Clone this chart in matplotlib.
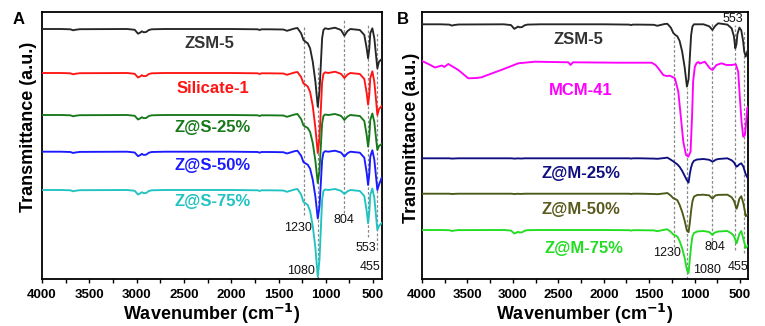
import matplotlib
matplotlib.use("Agg")
import matplotlib.pyplot as plt
import numpy as np

plt.rcParams["font.family"] = ["Liberation Sans", "DejaVu Sans"]

# ---------------- data ----------------
wavenumber = [4000, 3800, 3700, 3670, 3650, 3600, 3100, 3020, 2985, 2960, 2945, 2925, 2900,
              2870, 2840, 2700, 2000, 1720, 1700, 1680, 1600, 1450, 1410, 1390, 1330, 1300,
              1261, 1236, 1215, 1191, 1166, 1138, 1110, 1085, 1067, 1053, 1039, 1025, 1008,
              973, 903, 840, 820, 804, 785, 770, 740, 640, 593, 568, 553, 540, 530, 508,
              487, 466, 455, 438, 409]

# absorption depth below each trace's baseline (a.u.)
zsm5_a = [0, 0, 0.3, 1.3, 0.8, 0.2, 0, 0.8, 4.7, 3.5, 2.3, 3.3, 3.0,
          1.0, 0.3, 0, 0, 0.3, 1.0, 0.3, 0.3, 0.5, 1.8, 1.2, -0.5, -1.0,
          4.3, 11, 12.7, 14.3, 19.3, 32.7, 52.7, 77.7, 62.7, 36, 9.3, 1, -0.7,
          0, -1.3, 1, 4, 6.7, 4, 2, 0, 1, 6, 19.3, 29.3, 19.3, 4.3, -0.7,
          9.3, 29.3, 39.3, 32.7, 30]
silicate1 = [0, 0, 0.3, 1.3, 0.8, 0.2, 0, 0.8, 4.5, 3.3, 2.2, 3.2, 3.0,
             1.0, 0.3, 0, 0, 0.3, 1.0, 0.3, 0.3, 0.5, 1.8, 1.2, -0.5, -1.0,
             4, 10.5, 11.7, 13.5, 19, 33, 55, 80, 65, 37, 9.5, 1, -0.7,
             0, -1.3, 0.8, 3, 5, 3, 1.5, 0, 1, 6, 20, 31.7, 21, 5, -1.7,
             9, 30, 42, 36, 33]
zs25 = [0, 0, 0.3, 1.3, 0.8, 0.2, 0, 0.8, 4.5, 3.3, 2.2, 3.2, 3.0,
        1.0, 0.3, 0, 0, 0.3, 1.0, 0.3, 0.3, 0.5, 1.8, 1.2, -0.5, -1.0,
        4, 10.5, 11.7, 13, 17, 28, 46, 68, 56, 32, 8.5, 1, -0.5,
        0, -1.0, 0.8, 3, 5, 3, 1.5, 0, 1, 6, 20, 31.7, 21, 5, -1.5,
        7, 26, 35, 31, 29]
zs50 = [0, 0, 0.3, 1.3, 0.8, 0.2, 0, 0.8, 4.5, 3.3, 2.2, 3.2, 3.0,
        1.0, 0.3, 0, 0, 0.3, 1.0, 0.3, 0.3, 0.5, 1.8, 1.2, -0.5, -1.0,
        4, 10.5, 11.7, 13, 17, 28, 45, 66.7, 55, 32, 8.5, 1, -0.5,
        0, -1.0, 0.8, 3, 5, 3, 1.5, 0, 1, 6, 21, 33.3, 22, 5, -1.5,
        8, 28, 38.3, 33, 26]
zs75 = [0, 0, 0.3, 1.3, 0.8, 0.2, 0, 0.8, 4.5, 3.3, 2.2, 3.2, 3.0,
        1.0, 0.3, 0, 0, 0.3, 1.0, 0.3, 0.3, 0.5, 1.8, 1.2, -0.5, -1.0,
        4.5, 12, 13.3, 15, 21, 36, 58, 86.7, 70, 40, 10, 1, -0.5,
        0, -1.0, 0.8, 2.5, 4, 2.5, 1.2, 0, 1, 6, 21, 33.3, 22, 5, -1.5,
        8, 29, 40, 36, 33]
zsm5_b = [0, 0, 0.3, 1.3, 0.8, 0.2, 0, 0.8, 4.5, 3.3, 2.3, 3.0, 2.8,
          1.0, 0.3, 0, 0, 0.3, 0.8, 0.3, 0.3, 0.5, 1.5, 1.0, -0.3, -0.5,
          3.5, 8.5, 10.5, 12, 16.5, 27, 43, 62.3, 55, 33, 11, 2.3, 0,
          0, 0, 2, 4, 5.7, 3, 1.3, -1, 0.3, 4, 12, 24, 20, 10, 3.3,
          6, 17.3, 27, 32.3, 24]
zm25 = [0, 0, 0, 0.3, 0.2, 0, 0, 0, 0.3, 0.2, 0, 0.2, 0.2,
        0, 0, 0, 0, 0, 0.3, 0, 0, 0.3, 0.5, 0.3, -0.3, -0.7,
        1.5, 3, 4.5, 6, 8.5, 12.5, 17.5, 22, 24.3, 15.5, 9, 5, 2.5,
        1.2, 0.7, 1.5, 2.5, 3.3, 2.5, 1.5, 0.7, 0, 2, 4, 6.5, 8.3, 8, 6,
        5, 8, 11, 16, 21]
zm50 = [0, 0, 0, 0.3, 0.2, 0, 0, 0, 0.3, 0.2, 0, 0.2, 0.2,
        0, 0, 0, 0, 0, 0.3, 0, 0, 0.3, 0.5, 0.3, -0.3, -0.7,
        2, 4.5, 5.3, 6.5, 11, 18, 27, 37, 38.5, 29, 17, 8, 3,
        1.3, 1, 1.7, 3.5, 5, 3, 1.7, 1.2, 1, 3.5, 7, 11, 15, 13, 5,
        2.5, 9, 14, 22.5, 20]
zm75 = [0, 0, 0.2, 1.0, 0.6, 0.1, 0, 0.6, 3.5, 2.6, 1.8, 2.5, 2.3,
        0.8, 0.2, 0, 0, 0.2, 0.6, 0.2, 0.2, 0.4, 1.2, 0.8, -0.3, -0.7,
        2, 4.5, 5.3, 6.5, 11, 18, 28, 40, 43, 29, 16, 6.7, 3,
        1.5, 1, 2, 3.5, 5, 3, 2.3, 1.5, 1, 3.5, 6, 9.5, 13.3, 11, 4,
        1, 8.3, 12, 18, 15]

# MCM-41 trace (own knots, absolute a.u.)
mcm41_wavenumber = [4000, 3930, 3857, 3800, 3780, 3755, 3711, 3600, 3491, 3400, 3345, 3308,
                    3100, 2940, 2757, 2390, 2365, 2340, 1840, 1473, 1430, 1400, 1345, 1310,
                    1272, 1217, 1180, 1154, 1125, 1095, 1070, 1045, 1028, 1017, 998, 980,
                    960, 943, 888, 833, 804, 760, 705, 650, 594, 547, 521, 502, 484, 466,
                    447, 436, 422, 414]
mcm41 = [218, 215, 211.5, 213, 213.5, 212, 215, 209, 200.7, 201, 201.7, 203,
         210, 215.7, 217.3, 216.7, 214, 216.7, 216.3, 216.3, 214, 210.7, 204, 203,
         203.3, 200.7, 187.3, 164, 137.3, 124, 122.3, 127.3, 164, 197.3, 212.3, 215.7,
         217, 215.5, 217.3, 210.7, 209, 214, 215.7, 214, 214, 214.7, 207.3, 180.7, 157.3, 142.3,
         144, 154, 170.7, 172.3]

offsets_a = [250, 206, 164, 127.3, 89]
offsets_b = [254.7, 120.7, 85.3, 49]

names_a = ["ZSM-5", "Silicate-1", "Z@S-25%", "Z@S-50%", "Z@S-75%"]
names_b = ["ZSM-5", "MCM-41", "Z@M-25%", "Z@M-50%", "Z@M-75%"]
peaks = [1230, 1080, 804, 553, 455]
xticks = [4000, 3500, 3000, 2500, 2000, 1500, 1000, 500]

# ---------------- styles / layout ----------------
colors_a = ["#262626", "#ff1414", "#17781a", "#1a1aff", "#20c2c2"]
label_colors_a = ["#333333", "#ff1414", "#17781a", "#1a1aff", "#20c2c2"]
colors_b = ["#262626", "#ff00ff", "#0f0f82", "#4a5a16", "#22dd22"]
label_colors_b = ["#333333", "#ff00ff", "#0f0f82", "#5a5a1e", "#22dd22"]

W, H = 765, 326
fig = plt.figure(figsize=(W / 100, H / 100), dpi=100)
axA = fig.add_axes([42 / W, 1 - 279 / H, (382 - 42) / W, (279 - 12) / H])
axB = fig.add_axes([422 / W, 1 - 279 / H, (748 - 422) / W, (279 - 12) / H])

wn = np.array(wavenumber, dtype=float)
lw = 1.35
dash_kw = dict(colors="#8a8a8a", linestyles=(0, (2.2, 1.6)), linewidth=0.9, zorder=1)

# ---- panel A ----
for dep, off, c in zip([zsm5_a, silicate1, zs25, zs50, zs75], offsets_a, colors_a):
    axA.plot(wn, off - np.array(dep), color=c, lw=lw, zorder=3)
dash_a = {1230: (64, 252), 1080: (0, 214), 804: (66, 259), 553: (42, 254), 455: (29, 247)}
for p in peaks:
    axA.vlines(p, *dash_a[p], **dash_kw)
lab_a_pos = [(2235, 235.7), (2198, 190.7), (2198, 151.3), (2198, 114), (2198, 77.3)]
for name, (x, y), c in zip(names_a, lab_a_pos, label_colors_a):
    axA.text(x, y, name, color=c, fontsize=12, fontweight="bold", ha="center", va="center")
ann_a = {"1230": (1294, 51), "804": (808, 59), "553": (578, 30.7), "1080": (1267, 8.3), "455": (533, 12)}
for t, (x, y) in ann_a.items():
    axA.text(x, y, t, fontsize=9, ha="center", va="center", color="#111111", zorder=4)

# ---- panel B ----
axB.plot(wn, offsets_b[0] - np.array(zsm5_b), color=colors_b[0], lw=lw, zorder=3)
axB.plot(mcm41_wavenumber, mcm41, color=colors_b[1], lw=lw, zorder=3)
for dep, off, c in zip([zm25, zm50, zm75], offsets_b[1:], colors_b[2:]):
    axB.plot(wn, off - np.array(dep), color=c, lw=lw, zorder=3)
dash_b = {1230: (32, 242), 1080: (0, 191), 804: (34, 256), 553: (29, 254), 455: (26, 249)}
for p in peaks:
    axB.vlines(p, *dash_b[p], **dash_kw)
lab_b_pos = [(2284, 239), (2251, 189), (2251, 105.7), (2251, 70), (2218, 30.7)]
for name, (x, y), c in zip(names_b, lab_b_pos, label_colors_b):
    axB.text(x, y, name, color=c, fontsize=12, fontweight="bold", ha="center", va="center")
ann_b = {"553": (579, 260), "1230": (1305, 26), "804": (777, 32.3), "1080": (859, 9), "455": (527, 12.3)}
for t, (x, y) in ann_b.items():
    axB.text(x, y, t, fontsize=9, ha="center", va="center", color="#111111", zorder=4)

# ---- axes styling ----
for ax, xr, ylab_x, ylab_y in ((axA, 406, -0.014, 0.57), (axB, 413, -0.006, 0.53)):
    ax.set_xlim(4000, xr)
    ax.set_ylim(0, 267)
    ax.set_xticks(xticks)
    ax.set_xticks(np.arange(4000, 400, -250), minor=True)
    ax.set_yticks([])
    ax.tick_params(axis="x", which="both", direction="out", length=3, width=1.0, pad=4.5,
                   labelsize=9.5)
    for lbl in ax.get_xticklabels():
        lbl.set_fontweight("bold")
    for s in ax.spines.values():
        s.set_linewidth(1.3)
    ax.set_xlabel("Wavenumber (cm$^{\\mathbf{-1}}$)", fontsize=13, fontweight="bold", labelpad=0)
    ax.set_ylabel("Transmittance (a.u.)", fontsize=13, fontweight="bold")
    ax.yaxis.set_label_coords(ylab_x, ylab_y)

fig.text(19 / W, 1 - 20 / H, "A", fontsize=12, fontweight="bold", ha="center", va="center")
fig.text(403 / W, 1 - 20 / H, "B", fontsize=12, fontweight="bold", ha="center", va="center")

fig.savefig("out.png", dpi=100)
